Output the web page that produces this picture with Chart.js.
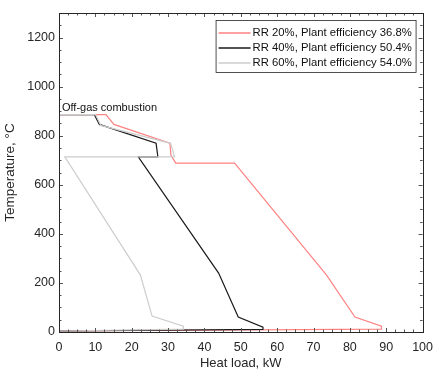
<!DOCTYPE html>
<html>
<head>
<meta charset="utf-8">
<script src="https://cdn.jsdelivr.net/npm/chart.js@4.4.0/dist/chart.umd.min.js"></script>
<style>
  html, body { margin: 0; padding: 0; background: #fff; }
  #wrap { width: 441px; height: 372px; }
</style>
</head>
<body>
<div id="wrap"><canvas id="heatChart" width="441" height="372"></canvas></div>
<script>
// composite curves (heat load kW, temperature C)
const rr20Load = [0, 12.9, 15.1, 30.5, 30.8, 32.1, 48.3, 73.6, 81.4, 88.7, 88.7, 0];
const rr20Temp = [886, 886, 846, 769, 720, 688, 688, 232, 61, 24, 12, 4];
const rr40Load = [0, 9.7, 11.1, 26.7, 27.2, 21.8, 43.9, 49.3, 56.1, 56.1, 0];
const rr40Temp = [886, 886, 846, 769, 714, 714, 240, 61, 20, 11, 4];
const rr60Load = [0, 10.1, 11.5, 30.7, 31.8, 1.6, 22.4, 25.6, 34.2, 34.2, 0];
const rr60Temp = [886, 886, 842, 769, 714, 714, 232, 65, 24, 12, 4];

const seriesLabels = ['RR 20%, Plant efficiency 36.8%', 'RR 40%, Plant efficiency 50.4%', 'RR 60%, Plant efficiency 54.0%'];
const xTicks = [0, 10, 20, 30, 40, 50, 60, 70, 80, 90, 100];
const yTicks = [0, 200, 400, 600, 800, 1000, 1200];
const noteText = 'Off-gas combustion';

function toPoints(xs, ys) {
    return xs.map((x, i) => ({ x: x, y: ys[i] }));
}

const axisColor = '#262626';
const font = 'Liberation Sans, Arial, sans-serif';

const matlabAxes = {
    id: 'matlabAxes',
    afterDatasetsDraw(chart) {
        const c = chart.ctx;
        const a = chart.chartArea;
        const xs = chart.scales.x, ys = chart.scales.y;
        c.save();
        c.strokeStyle = '#555';
        c.lineWidth = 1;
        c.beginPath();
        for (let v = 0; v <= 100; v += 2.5) {
            const len = (v % 10 === 0) ? 4 : 2.5;
            const px = Math.round(xs.getPixelForValue(v)) + 0.5;
            c.moveTo(px, a.bottom); c.lineTo(px, a.bottom - len);
            c.moveTo(px, a.top); c.lineTo(px, a.top + len);
        }
        for (let v = 0; v <= 1300; v += 50) {
            const len = (v % 200 === 0) ? 4 : 2.5;
            const py = Math.round(ys.getPixelForValue(v)) + 0.5;
            c.moveTo(a.left, py); c.lineTo(a.left + len, py);
            c.moveTo(a.right, py); c.lineTo(a.right - len, py);
        }
        c.stroke();
        c.strokeStyle = axisColor;
        c.lineWidth = 1;
        c.strokeRect(Math.round(a.left) + 0.5, Math.round(a.top) + 0.5, Math.round(a.right - a.left), Math.round(a.bottom - a.top));

        // annotation
        c.fillStyle = '#111';
        c.font = '11px ' + font;
        c.textBaseline = 'middle';
        c.textAlign = 'left';
        c.fillText(noteText, xs.getPixelForValue(0.8), ys.getPixelForValue(886) - 7);

        // legend
        const bx = a.right - 207, by = a.top + 7, bw = 200, bh = 52;
        c.fillStyle = '#fff';
        c.fillRect(bx, by, bw, bh);
        c.strokeStyle = axisColor;
        c.lineWidth = 0.8;
        c.strokeRect(bx + 0.5, by + 0.5, bw, bh);
        c.font = '11.3px ' + font;
        chart.data.datasets.forEach((ds, i) => {
            const y = by + 13 + i * 15;
            c.strokeStyle = ds.borderColor;
            c.lineWidth = 1.5;
            c.beginPath();
            c.moveTo(bx + 3, y); c.lineTo(bx + 35, y);
            c.stroke();
            c.fillStyle = '#111';
            c.fillText(ds.label, bx + 37, y);
        });
        c.restore();
    }
};

new Chart(document.getElementById('heatChart').getContext('2d'), {
    type: 'scatter',
    data: {
        datasets: [
            { label: seriesLabels[0], data: toPoints(rr20Load, rr20Temp), borderColor: '#ff8282', order: 2 },
            { label: seriesLabels[1], data: toPoints(rr40Load, rr40Temp), borderColor: '#1a1a1a', order: 1 },
            { label: seriesLabels[2], data: toPoints(rr60Load, rr60Temp), borderColor: '#cdcdcd', order: 0 }
        ]
    },
    options: {
        responsive: false,
        animation: false,
        devicePixelRatio: 1,
        datasets: {
            scatter: { showLine: true, pointRadius: 0, borderWidth: 1.2, tension: 0, fill: false }
        },
        layout: { padding: { top: 13, right: 11, left: 0, bottom: 0 } },
        plugins: {
            legend: { display: false },
            tooltip: { enabled: false }
        },
        scales: {
            x: {
                type: 'linear',
                min: 0,
                max: 100,
                afterBuildTicks: s => { s.ticks = xTicks.map(v => ({ value: v })); },
                afterFit: s => { s.height = 40; },
                grid: { display: false, drawTicks: false },
                border: { display: false },
                ticks: { color: axisColor, padding: 8, maxRotation: 0, font: { family: font, size: 12.5 }, callback: v => String(v) },
                title: { display: true, text: 'Heat load, kW', color: axisColor, padding: { top: 0, bottom: 1 }, font: { family: font, size: 13 } }
            },
            y: {
                type: 'linear',
                min: 0,
                max: 1300,
                afterBuildTicks: s => { s.ticks = yTicks.map(v => ({ value: v })); },
                afterFit: s => { s.width = 59; },
                grid: { display: false, drawTicks: false },
                border: { display: false },
                ticks: { color: axisColor, padding: 4, font: { family: font, size: 12.5 }, callback: v => String(v) },
                title: { display: true, text: 'Temperature, °C', color: axisColor, padding: { top: 2, bottom: 0 }, font: { family: font, size: 13.5 } }
            }
        }
    },
    plugins: [matlabAxes]
});
</script>
</body>
</html>
